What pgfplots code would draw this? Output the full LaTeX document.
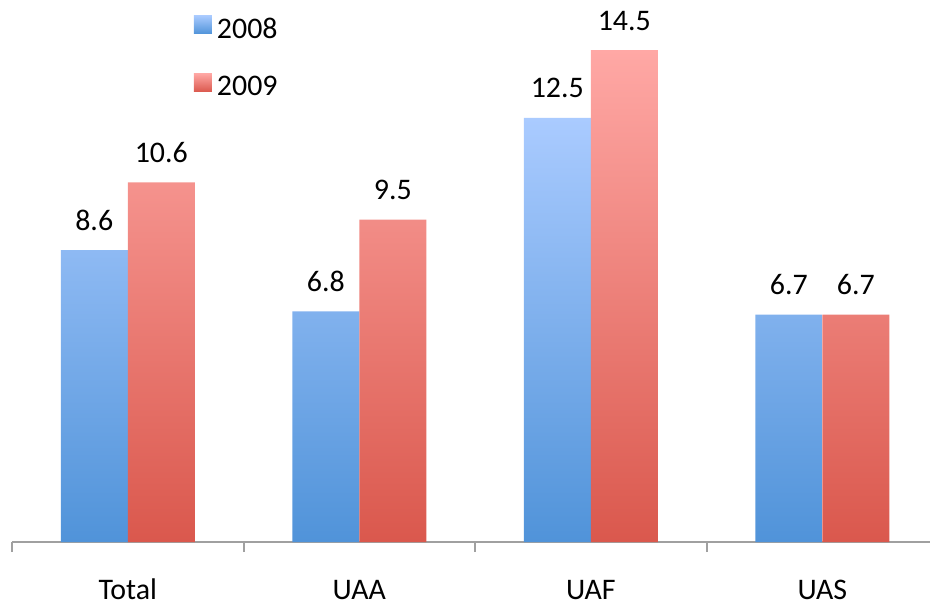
\documentclass[border=0pt]{standalone}
\usepackage{pgfplots}
\pgfplotsset{compat=1.18}
\usepackage{fontspec}
\setmainfont{Carlito}
\definecolor{bluetop}{RGB}{170,203,255}
\definecolor{bluebot}{RGB}{80,147,217}
\definecolor{redtop}{RGB}{255,168,165}
\definecolor{redbot}{RGB}{218,88,77}
\definecolor{axisgray}{RGB}{160,160,160}
\begin{document}
\fontsize{30}{36}\selectfont
\begin{tikzpicture}
\begin{axis}[
  scale only axis, width=918bp, height=542bp,
  xmin=-0.5, xmax=3.465, ymin=0, ymax=15.974,
  ybar=0pt, bar width=67bp,
  axis y line=none, axis x line*=bottom,
  x axis line style={-, draw=axisgray, line width=2bp},
  xtick={0,1,2,3}, xticklabels={Total,UAA,UAF,UAS},
  major tick length=0pt,
  minor xtick={-0.5,0.5,1.5,2.5}, minor tick length=10bp,
  tick align=outside,
  minor tick style={draw=axisgray, line width=2bp},
  xticklabel style={anchor=base, yshift=-57.5bp, inner sep=0pt, outer sep=0pt, text depth=0pt, font=\fontsize{30}{36}\selectfont},
  clip=false,
  nodes near coords,
  every node near coord/.append style={anchor=base, yshift=20bp, font=\fontsize{30}{36}\selectfont, text=black},
  /pgf/number format/fixed, /pgf/number format/fixed zerofill, /pgf/number format/precision=1, /pgf/number format/assume math mode=true,
  legend style={draw=none, fill=none, at={(axis description cs:0.198,0.972)}, anchor=north west, row sep=28.5bp, column sep=3bp, inner sep=0pt, font=\fontsize{30}{36}\selectfont},
  legend cell align=left,
]
\addplot[draw=none, top color=bluetop, bottom color=bluebot,
  legend image code/.code={\fill[top color=bluetop,bottom color=bluebot,draw=none] (0bp,-3.5bp) rectangle (18bp,15bp);}]
  coordinates {(0,8.6) (1,6.8) (2,12.5) (3,6.7)};
\addlegendentry{2008}
\addplot[draw=none, top color=redtop, bottom color=redbot,
  legend image code/.code={\fill[top color=redtop,bottom color=redbot,draw=none] (0bp,-3.5bp) rectangle (18bp,15bp);}]
  coordinates {(0,10.6) (1,9.5) (2,14.5) (3,6.7)};
\addlegendentry{2009}
\end{axis}
\pgfresetboundingbox
\path[use as bounding box] (-12bp,-65bp) rectangle (918bp,542bp);
\end{tikzpicture}
\end{document}
